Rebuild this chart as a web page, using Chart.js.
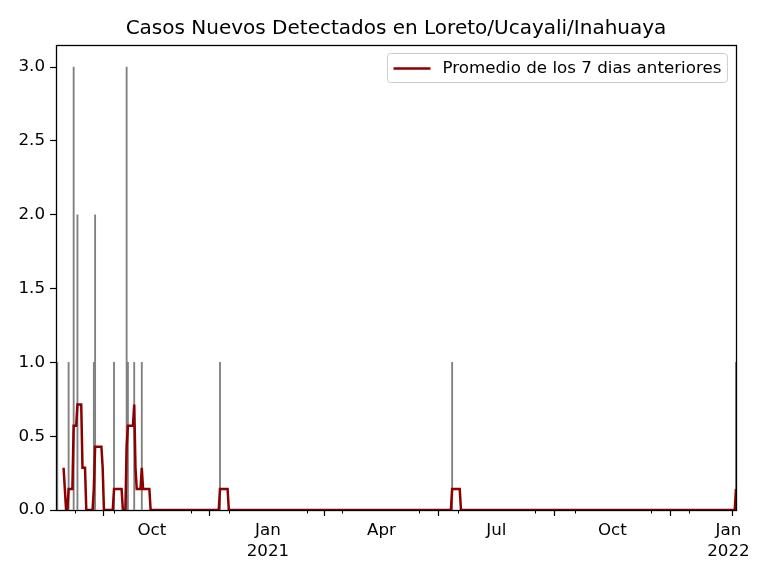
<!DOCTYPE html>
<html>
<head>
<meta charset="utf-8">
<script src="https://cdn.jsdelivr.net/npm/chart.js@4.4.1/dist/chart.umd.min.js"></script>
<style>
  body { margin: 0; background: #fff; }
  #caja { width: 768px; height: 576px; }
</style>
</head>
<body>
<div id="caja"><canvas id="grafica" width="768" height="576"></canvas></div>
<script>
// casos nuevos por dia (barras grises)
var fechasCasos = ['2020-07-17','2020-07-18','2020-07-27','2020-07-31','2020-08-03','2020-08-16','2020-08-17',
    '2020-09-01','2020-09-11','2020-09-12','2020-09-17','2020-09-23','2020-11-24','2021-05-27','2022-01-07'];
var casosNuevos = [1,1,1,3,2,1,2,1,3,1,1,1,1,1,1];

// promedio de 7 dias (linea roja), puntos donde cambia
var fechasPromedio = ['2020-07-23','2020-07-24','2020-07-25','2020-07-26','2020-07-27','2020-07-30','2020-07-31',
    '2020-08-02','2020-08-03','2020-08-06','2020-08-07','2020-08-09','2020-08-10','2020-08-15','2020-08-16',
    '2020-08-17','2020-08-22','2020-08-23','2020-08-24','2020-08-31','2020-09-01','2020-09-07','2020-09-08',
    '2020-09-10','2020-09-11','2020-09-12','2020-09-16','2020-09-17','2020-09-18','2020-09-19','2020-09-22',
    '2020-09-23','2020-09-24','2020-09-29','2020-09-30','2020-11-23','2020-11-24','2020-11-30','2020-12-01',
    '2021-05-26','2021-05-27','2021-06-02','2021-06-03','2022-01-06','2022-01-07'];
var valoresPromedio = [0.286,0.143,0,0,0.143,0.143,0.571,0.571,0.714,0.714,0.286,0.286,0,0,0.143,0.429,0.429,
    0.286,0,0,0.143,0.143,0,0,0.429,0.571,0.571,0.714,0.286,0.143,0.143,0.286,0.143,0.143,0,0,0.143,0.143,0,0,
    0.143,0.143,0,0,0.143];

var inicio = '2020-07-17', fin = '2022-01-07';
var fechasMarcas = ['2020-07-17','2020-10-01','2021-01-01','2021-04-01','2021-07-01','2021-10-01','2022-01-01','2022-01-07'];
var etiquetasMarcas = ['', 'Oct', ['Jan','2021'], 'Apr', 'Jul', 'Oct', ['Jan','2022'], ''];
var fechasMenores = ['2020-08-01','2020-09-01','2020-11-01','2020-12-01','2021-02-01','2021-03-01',
    '2021-05-01','2021-06-01','2021-08-01','2021-09-01','2021-11-01','2021-12-01'];
var marcasY = [0, 0.5, 1, 1.5, 2, 2.5, 3];

function dia(f){
    return (Date.parse(f + 'T00:00:00Z') - Date.parse(inicio + 'T00:00:00Z')) / 86400000;
}

var fuente = '"DejaVu Sans", sans-serif';

var marco = {
    id: 'marco',
    afterDatasetsDraw(chart){
        var ctx = chart.ctx, a = chart.chartArea;
        var sx = chart.scales.x;
        ctx.save();
        // marcas menores
        ctx.strokeStyle = '#000';
        ctx.lineWidth = 1;
        fechasMenores.forEach(f => {
            var px = Math.round(sx.getPixelForValue(dia(f))) + 0.5;
            ctx.beginPath();
            ctx.moveTo(px, a.bottom);
            ctx.lineTo(px, a.bottom + 3.5);
            ctx.stroke();
        });
        ctx.lineWidth = 1.3;
        ctx.strokeRect(Math.round(a.left) + 0.5, Math.round(a.top) + 0.5,
            Math.round(a.right - a.left), Math.round(a.bottom - a.top));
        ctx.restore();
    }
};

var leyenda = {
    id: 'leyenda',
    afterDraw(chart){
        var ctx = chart.ctx, a = chart.chartArea;
        var ds = chart.data.datasets[0];
        ctx.save();
        ctx.font = '16.7px ' + fuente;
        var ancho = 6 + 37 + 11 + ctx.measureText(ds.label).width + 7;
        var x = Math.round(a.right - 9 - ancho) + 0.5, y = Math.round(a.top + 8) + 0.5, alto = 29;
        ctx.beginPath();
        if (ctx.roundRect) ctx.roundRect(x, y, ancho, alto, 3); else ctx.rect(x, y, ancho, alto);
        ctx.fillStyle = 'rgba(255,255,255,0.8)';
        ctx.fill();
        ctx.strokeStyle = '#cccccc';
        ctx.lineWidth = 1;
        ctx.stroke();
        ctx.beginPath();
        ctx.moveTo(x + 6, y + 15);
        ctx.lineTo(x + 43, y + 15);
        ctx.strokeStyle = ds.borderColor;
        ctx.lineWidth = ds.borderWidth;
        ctx.stroke();
        ctx.fillStyle = '#000';
        ctx.textBaseline = 'middle';
        ctx.fillText(ds.label, x + 55, y + 15);
        ctx.restore();
    }
};

new Chart(document.getElementById('grafica'), {
    type: 'bar',
    data: {
        datasets: [{
            type: 'line',
            label: 'Promedio de los 7 dias anteriores',
            data: fechasPromedio.map((f, i) => ({x: dia(f), y: valoresPromedio[i]})),
            borderColor: '#8b0000',
            borderWidth: 2.5,
            pointRadius: 0,
            tension: 0,
            fill: false,
            order: 0
        }, {
            type: 'bar',
            label: 'Casos',
            data: fechasCasos.map((f, i) => ({x: dia(f), y: casosNuevos[i]})),
            backgroundColor: '#808080',
            barThickness: 1.2,
            order: 1
        }]
    },
    options: {
        responsive: false,
        animation: false,
        events: [],
        layout: { padding: { left: 0, right: 32, top: 0, bottom: 0 } },
        plugins: {
            legend: { display: false },
            tooltip: { enabled: false },
            title: {
                display: true,
                fullSize: false,
                text: 'Casos Nuevos Detectados en Loreto/Ucayali/Inahuaya',
                color: '#000',
                font: { family: fuente, size: 20, weight: 'normal', lineHeight: 1.2 },
                padding: { top: 17, bottom: 4 }
            }
        },
        scales: {
            x: {
                type: 'linear',
                offset: false,
                min: dia(inicio),
                max: dia(fin),
                border: { display: false },
                grid: { drawOnChartArea: false, drawTicks: true, tickLength: 6, tickColor: '#000', tickWidth: 1.2 },
                afterBuildTicks: s => { s.ticks = fechasMarcas.map(f => ({value: dia(f)})); },
                afterFit: s => { s.height = 66; },
                ticks: {
                    autoSkip: false,
                    maxRotation: 0,
                    padding: 4,
                    color: '#000',
                    font: { family: fuente, size: 16.7, lineHeight: 1.25 },
                    callback: (v, i) => etiquetasMarcas[i]
                }
            },
            y: {
                min: 0,
                max: 3.15,
                border: { display: false },
                grid: { drawOnChartArea: false, drawTicks: true, tickLength: 6, tickColor: '#000', tickWidth: 1.2 },
                afterBuildTicks: s => { s.ticks = marcasY.map(v => ({value: v})); },
                afterFit: s => { s.width = 56; },
                ticks: {
                    padding: 5,
                    color: '#000',
                    font: { family: fuente, size: 16.7 },
                    callback: v => v.toFixed(1)
                }
            }
        }
    },
    plugins: [marco, leyenda]
});
</script>
</body>
</html>
